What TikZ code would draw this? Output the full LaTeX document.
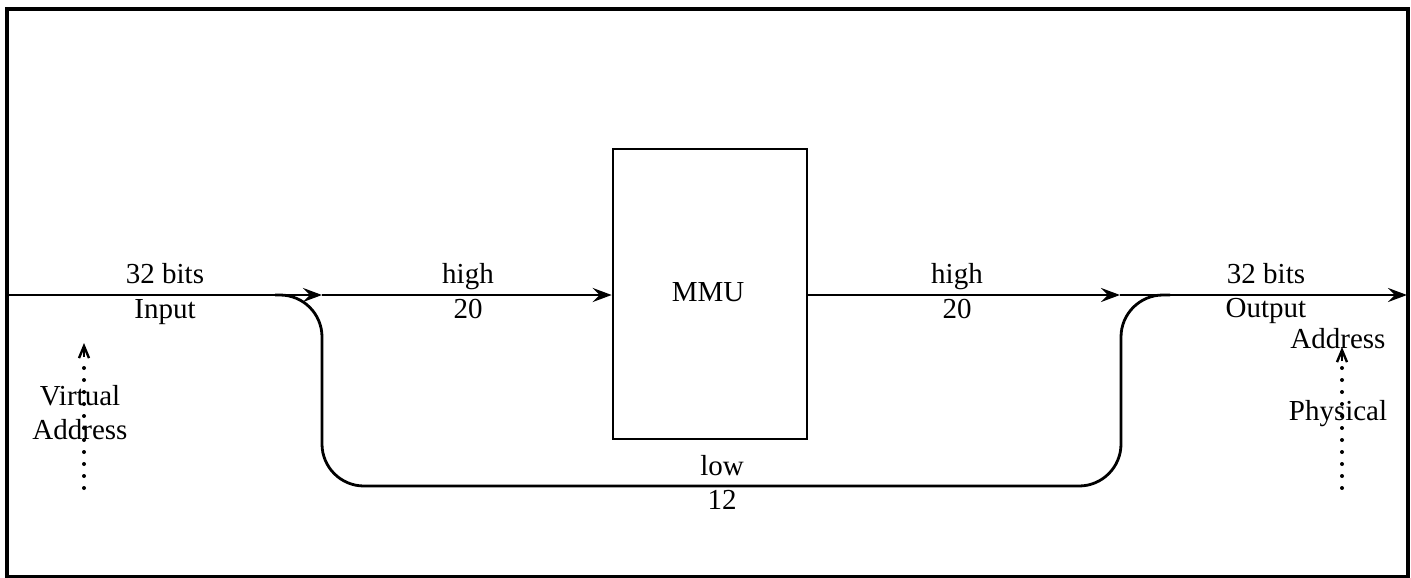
\documentclass[tikz,border=0pt]{standalone}
\usepackage{fontspec}
\setmainfont{Liberation Serif}
\usetikzlibrary{arrows.meta}
\begin{document}
\begin{tikzpicture}[x=1pt,y=-1pt,
  lbl/.style={font=\fontsize{29}{32}\selectfont, anchor=base, inner sep=0pt},
  wire/.style={line width=2.8pt},
  arr/.style={wire,-{Stealth[length=19pt,width=14pt,inset=7pt]}},
  dotarr/.style={line width=4pt, line cap=round, dash pattern=on 0pt off 12pt},
  barb/.style={line width=2.4pt, -{Straight Barb[length=12pt,width=10pt,line width=2.4pt]}}]
\useasboundingbox (0,0) rectangle (1411,578);
\draw[line width=3.2pt] (7,9) rectangle (1408,576.5);
% MMU box
\node[draw, line width=2.6pt, minimum width=194pt, minimum height=290pt, inner sep=0pt] (mmu) at (710,294) {};
\node[lbl] (mmut) at (708,301) {MMU};
% coordinates on main line
\coordinate (in) at (7,295);
\coordinate (a1) at (322,295);
\coordinate (a2) at (1120,295);
\coordinate (out) at (1407,295);
\draw[arr] (in) -- (a1);
\draw[arr] (a1) -- (mmu.west |- a1);
\draw[arr] (mmu.east |- a2) -- (a2);
\draw[arr] (a2) -- (out);
% low path
\coordinate (l0) at (275,295);
\coordinate (l1) at (322,295);
\coordinate (l2) at (322,486);
\coordinate (l3) at (1121,486);
\coordinate (l4) at (1121,295);
\coordinate (l5) at (1170,295);
\draw[wire, rounded corners=42pt] (l0) -- (l1) -- (l2) -- (l3) -- (l4) -- (l5);
% labels
\node[lbl] (b1) at (165,283) {32 bits};
\node[lbl] (inp) at (165,318) {Input};
\node[lbl] (h1) at (468,283) {high};
\node[lbl] (n1) at (468,318) {20};
\node[lbl] (h2) at (957,283) {high};
\node[lbl] (n2) at (957,318) {20};
\node[lbl] (b2) at (1266,283) {32 bits};
\node[lbl] (outp) at (1266,317) {Output};
\node[lbl] (low) at (722,475) {low};
\node[lbl] (n12) at (722,509) {12};
\node[lbl] (va1) at (80,405) {Virtual};
\node[lbl] (va2) at (80,439) {Address};
\node[lbl] (pa1) at (1338,348) {Address};
\node[lbl] (pa2) at (1338,420) {Physical};
% dotted arrows
\coordinate (d1s) at (84,488);
\coordinate (d1t) at (84,357);
\coordinate (d1e) at (84,343);
\coordinate (d2s) at (1342,488);
\coordinate (d2t) at (1342,361);
\coordinate (d2e) at (1342,347);
\draw[dotarr] (d1s) -- (d1t);
\draw[barb] (d1t) -- (d1e);
\draw[dotarr] (d2s) -- (d2t);
\draw[barb] (d2t) -- (d2e);
\end{tikzpicture}
\end{document}
